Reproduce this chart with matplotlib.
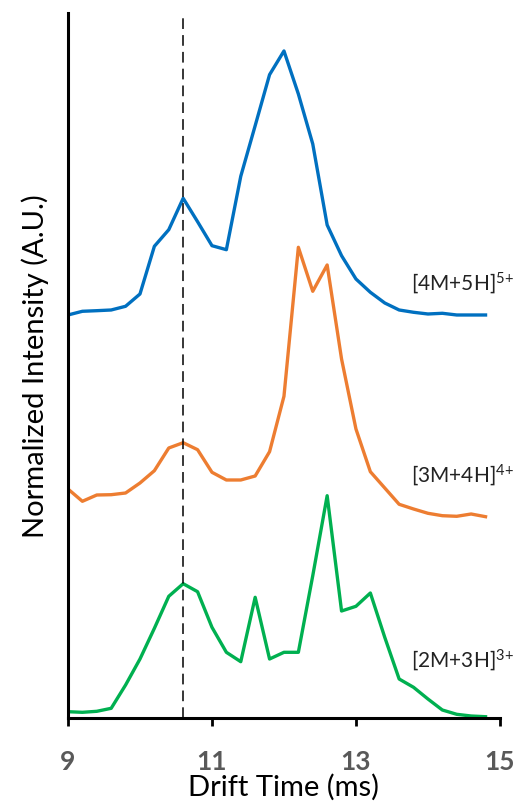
import numpy as np
import matplotlib
matplotlib.use("Agg")
import matplotlib.pyplot as plt

plt.rcParams['font.family'] = ['Lato', 'DejaVu Sans']
plt.rcParams['mathtext.fontset'] = 'custom'
plt.rcParams['mathtext.rm'] = 'Lato'
plt.rcParams['mathtext.default'] = 'regular'

# drift time grid (ms)
drift_time = [9.0, 9.2, 9.4, 9.6, 9.8, 10.0, 10.2, 10.4, 10.6, 10.8,
              11.0, 11.2, 11.4, 11.6, 11.8, 12.0, 12.2, 12.4, 12.6, 12.8,
              13.0, 13.2, 13.4, 13.6, 13.8, 14.0, 14.2, 14.4, 14.6, 14.8]

# intensities (arbitrary units), each trace drawn on top of its offset
dimer = [6.3, 5.7, 6.7, 9.7, 33, 59, 89.7, 121.7, 134.3, 126.3,
         90.7, 65.7, 56.3, 120.7, 59, 65.7, 65.7, 142.3, 222.3, 107,
         111.7, 125, 80.7, 39, 30.7, 19, 8, 3.7, 2, 1.3]
trimer = [34, 21.7, 28, 28.3, 30, 40, 52.3, 75, 80.3, 73.3,
          50.7, 43, 43, 47, 71.3, 126.7, 275.7, 231.7, 258, 164,
          94, 51.3, 35, 18.7, 14, 9.7, 7.3, 6.7, 9, 6.3]
tetramer = [8, 11.7, 12.3, 13, 16.7, 29, 76.7, 93.3, 124.7, 101.3,
            77.3, 73.3, 146.7, 197.3, 248.3, 272, 229, 179, 98, 67.3,
            44, 30.7, 20, 13, 10.7, 9, 9.7, 8, 8, 8]

offsets = [0, 195, 395]
labels = ['[2M+3H]$^{3{+}}$', '[3M+4H]$^{4{+}}$', '[4M+5H]$^{5{+}}$']
label_y = [59, 244, 436]
colors = ['#00B050', '#ED7D31', '#0070C0']
marker_time = 10.6

fig = plt.figure(figsize=(5.17, 8.03), dpi=100)
ax = fig.add_axes([0.1315, 0.1046, 0.8355, 0.878])

for data, off, col, lab, ly in zip([dimer, trimer, tetramer], offsets, colors, labels, label_y):
    ax.plot(drift_time, np.array(data) + off, color=col, linewidth=2.4)
    ax.text(13.76, ly, lab, fontsize=15, va='center', ha='left', color='#222222')

ax.axvline(marker_time, color='black', linestyle=(0, (7, 4)), linewidth=1.1)

ax.set_xlim(9, 15)
ax.set_ylim(0, 705)
ax.set_xticks([9, 11, 13, 15])
ax.set_yticks([])
ax.tick_params(axis='x', direction='out', length=6, width=2, pad=16,
               labelsize=19, labelcolor='#595959')
for t in ax.get_xticklabels():
    t.set_fontweight('bold')

for s in ['top', 'right']:
    ax.spines[s].set_visible(False)
ax.spines['left'].set_linewidth(2.2)
ax.spines['bottom'].set_linewidth(2.2)

ax.set_xlabel('Drift Time (ms)', fontsize=21, labelpad=0)
ax.set_ylabel('Normalized Intensity (A.U.)', fontsize=21, labelpad=14)

fig.savefig('out.png', dpi=100)
